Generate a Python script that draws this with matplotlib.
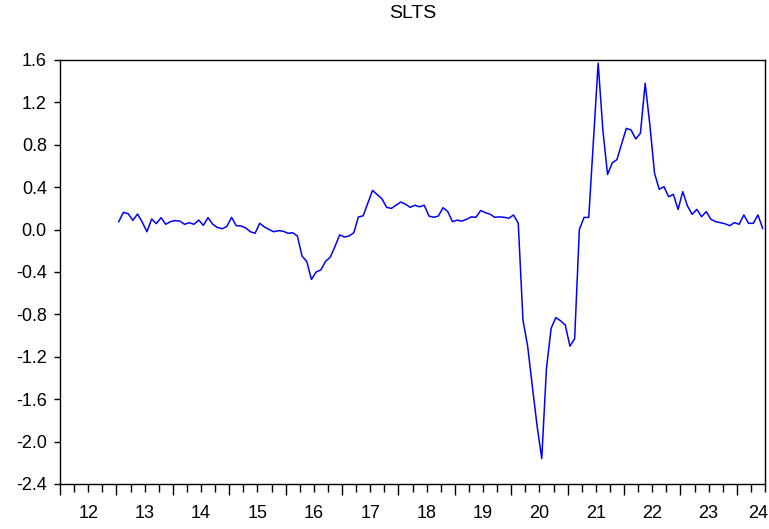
import numpy as np
import matplotlib
matplotlib.use("Agg")
import matplotlib.pyplot as plt
from matplotlib.ticker import FixedLocator
import matplotlib.transforms as mtransforms

plt.rcParams['font.family'] = ['Liberation Sans', 'DejaVu Sans']

# Monthly SLTS series, 2013M01 .. 2024M06
start_year = 2013
slts = [
    0.075, 0.163, 0.150, 0.087, 0.147, 0.070, -0.020, 0.100, 0.056, 0.113, 0.050, 0.075,
    0.085, 0.080, 0.050, 0.065, 0.050, 0.090, 0.040, 0.113, 0.050, 0.020, 0.008, 0.030,
    0.115, 0.037, 0.034, 0.016, -0.020, -0.035, 0.060, 0.025, 0.000, -0.020, -0.010, -0.015,
    -0.035, -0.030, -0.060, -0.250, -0.300, -0.470, -0.400, -0.380, -0.300, -0.260, -0.160, -0.050,
    -0.070, -0.060, -0.030, 0.120, 0.130, 0.250, 0.370, 0.330, 0.290, 0.210, 0.200, 0.230,
    0.260, 0.240, 0.210, 0.230, 0.215, 0.230, 0.128, 0.116, 0.128, 0.207, 0.170, 0.075,
    0.090, 0.080, 0.097, 0.120, 0.116, 0.180, 0.160, 0.145, 0.116, 0.120, 0.116, 0.107,
    0.138, 0.060, -0.853, -1.100, -1.480, -1.850, -2.160, -1.310, -0.930, -0.830, -0.860, -0.900,
    -1.100, -1.030, 0.000, 0.115, 0.115, 0.840, 1.570, 0.940, 0.520, 0.630, 0.660, 0.810,
    0.955, 0.940, 0.855, 0.910, 1.380, 0.990, 0.530, 0.380, 0.405, 0.310, 0.333, 0.190,
    0.358, 0.223, 0.144, 0.191, 0.122, 0.169, 0.097, 0.075, 0.065, 0.055, 0.037, 0.066,
    0.050, 0.138, 0.059, 0.059, 0.138, 0.012,
]
year_labels = ['12', '13', '14', '15', '16', '17', '18', '19', '20', '21', '22', '23', '24']
y_ticks = [-2.4, -2.0, -1.6, -1.2, -0.8, -0.4, 0.0, 0.4, 0.8, 1.2, 1.6]

t = start_year + (np.arange(len(slts)) + 0.5) / 12.0

fig = plt.figure(figsize=(7.69, 5.29), dpi=100)
ax = fig.add_axes([60/769, 1 - 484/529, (765 - 60)/769, (484 - 60)/529])

ax.plot(t, slts, color='#0000ff', lw=1.1)

ax.set_xlim(2012.0, 2024.5)
ax.set_ylim(-2.4, 1.6)

ax.set_yticks(y_ticks)
ax.set_yticklabels([f"{v:.1f}" for v in y_ticks])

years = np.arange(2012, 2025)
ax.xaxis.set_major_locator(FixedLocator(years))
quarters = [y + q / 4 for y in range(2012, 2025) for q in (1, 2, 3)]
ax.xaxis.set_minor_locator(FixedLocator(quarters))
ax.set_xticklabels([])
ax.tick_params(axis='x', which='major', length=8, width=1.0, direction='out')
ax.tick_params(axis='x', which='minor', length=5.5, width=1.0, direction='out')
ax.tick_params(axis='y', which='major', length=4.5, width=1.0, direction='out',
               labelsize=13, pad=5)
ax.tick_params(top=False, right=False)

trans = mtransforms.blended_transform_factory(ax.transData, fig.transFigure)
for yr, lab in zip(years, year_labels):
    if yr < 2024:
        ax.text(yr + 0.5, 1 - 513/529, lab, transform=trans, ha='center', va='center',
                fontsize=13)
    else:
        fig.text(768/769, 1 - 513/529, lab, ha='right', va='center', fontsize=13)

for s in ax.spines.values():
    s.set_linewidth(1.0)
    s.set_color('black')

fig.text((60 + 765) / 2 / 769, 1 - 14/529, 'SLTS', ha='center', va='center', fontsize=14)

fig.savefig('out.png', dpi=100, facecolor='white')
